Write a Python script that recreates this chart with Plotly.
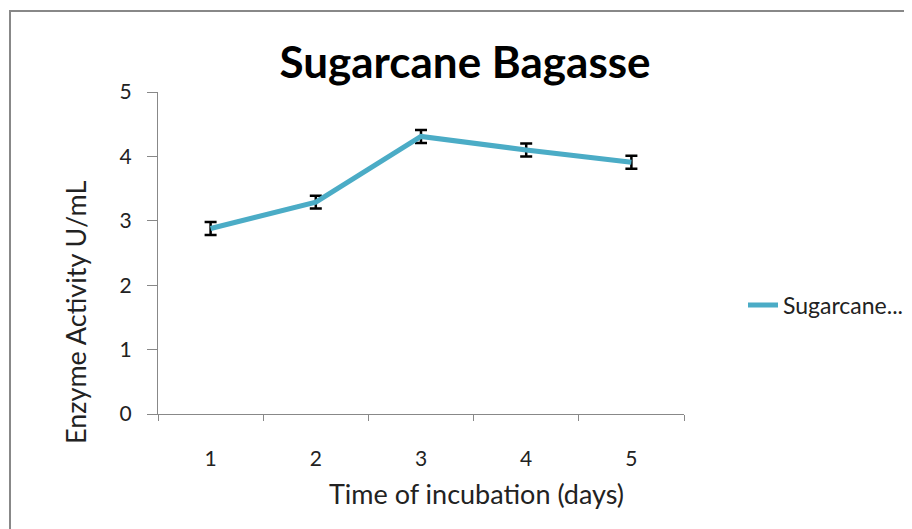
import plotly.graph_objects as go

days = ["1", "2", "3", "4", "5"]
activity = [2.88, 3.29, 4.31, 4.10, 3.91]
error = [0.1, 0.1, 0.1, 0.1, 0.1]
series_name = "Sugarcane..."
y_ticks = [0, 1, 2, 3, 4, 5]

FONT = "Lato, Open Sans, sans-serif"
OFF = 8  # page body margin offset

W, H = 912 - OFF, 529 - OFF
L, T = 158 - OFF, 92 - OFF
pw, ph = 526, 322
R, B = W - L - pw, H - T - ph


def px(xpix):
    return (xpix - OFF - L) / pw


def py(ypix):
    return (T + ph - (ypix - OFF)) / ph


fig = go.Figure()
fig.add_trace(go.Scatter(
    x=days, y=activity, mode="lines", name=series_name,
    line=dict(color="#4BACC6", width=5),
    error_y=dict(type="data", array=error, visible=True, color="black",
                 thickness=2.5, width=6),
))

fig.update_layout(
    width=W, height=H,
    margin=dict(l=L, r=R, t=T, b=B, autoexpand=False),
    paper_bgcolor="white", plot_bgcolor="white",
    font=dict(family=FONT, size=21, color="#222"),
    title=dict(text="<b>Sugarcane Bagasse</b>", x=(465 - OFF) / W,
               xanchor="center", y=1 - (63 - OFF) / H, yanchor="middle",
               font=dict(size=44, color="black", family=FONT)),
    xaxis=dict(type="category", tickson="boundaries", ticks="outside",
               range=[-0.5, 4.5],
               ticklen=6, tickcolor="#888", showline=True, linecolor="#888",
               linewidth=1, showgrid=False, zeroline=False,
               ticklabelstandoff=26, tickfont=dict(size=21)),
    yaxis=dict(range=[0, 5], tickvals=y_ticks, ticks="outside", ticklen=10,
               tickcolor="#888", showline=True, linecolor="#888", linewidth=1,
               showgrid=False, zeroline=False, ticklabelstandoff=11,
               tickfont=dict(size=21)),
    showlegend=True,
    legend=dict(x=px(743), y=py(305), xanchor="left", yanchor="middle",
                font=dict(size=23), bgcolor="rgba(0,0,0,0)"),
    annotations=[
        dict(text="Time of incubation (days)", xref="paper", yref="paper",
             x=px(476), y=py(493), xanchor="center", yanchor="middle",
             showarrow=False, font=dict(size=27)),
        dict(text="Enzyme Activity U/mL", xref="paper", yref="paper",
             x=px(75), y=py(312), xanchor="center", yanchor="middle",
             textangle=-90, showarrow=False, font=dict(size=27)),
    ],
    shapes=[dict(type="rect", xref="paper", yref="paper",
                 x0=px(10), x1=px(930), y0=py(545), y1=py(11),
                 line=dict(color="#888", width=2), fillcolor="rgba(0,0,0,0)",
                 layer="below")],
)

fig.write_html("out.html")
